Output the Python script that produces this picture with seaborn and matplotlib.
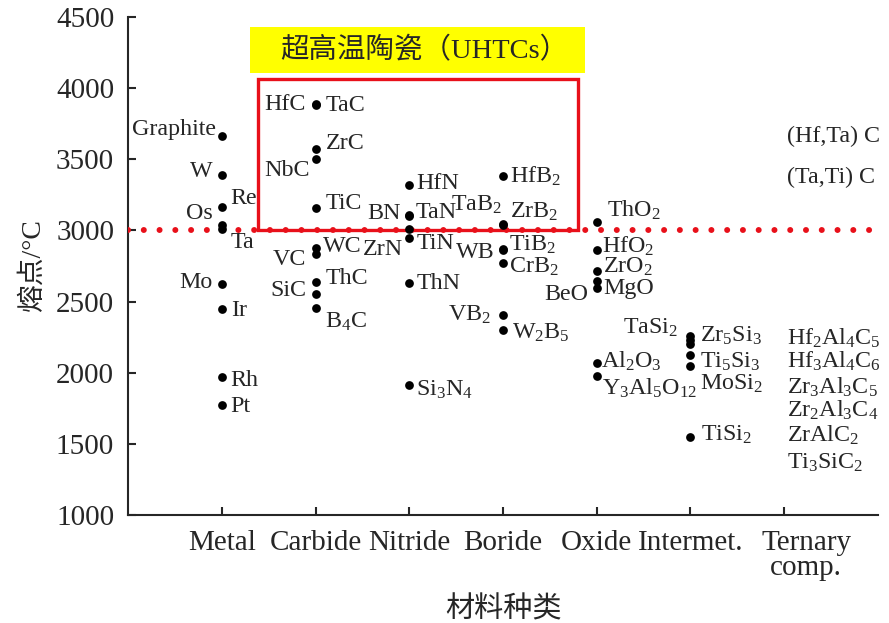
import matplotlib
matplotlib.use("Agg")
import matplotlib.pyplot as plt
import matplotlib.patches as mpatches
from matplotlib.transforms import ScaledTranslation
import pandas as pd
import seaborn as sns

# categories on the x axis
categories = ["Metal", "Carbide", "Nitride", "Boride", "Oxide", "Intermet.", "Ternary\ncomp."]

# melting points (°C), one list per material class
metal = ["Graphite", "W", "Re", "Os", "Ta", "Mo", "Ir", "Rh", "Pt"]
metal_mp = [3665, 3390, 3165, 3035, 3010, 2620, 2450, 1970, 1770]

carbide = ["HfC", "TaC", "ZrC", "NbC", "TiC", "WC", "VC", "ThC", "SiC", "B$_4$C"]
carbide_mp = [3890, 3880, 3575, 3500, 3160, 2875, 2835, 2640, 2550, 2455]

nitride = ["HfN", "TaN", "BN", "ZrN", "TiN", "ThN", "Si$_3$N$_4$"]
nitride_mp = [3320, 3110, 3100, 3010, 2950, 2630, 1910]

boride = ["HfB$_2$", "TaB$_2$", "ZrB$_2$", "TiB$_2$", "WB", "CrB$_2$", "VB$_2$", "W$_2$B$_5$"]
boride_mp = [3385, 3045, 3035, 2870, 2865, 2770, 2405, 2300]

oxide = ["ThO$_2$", "HfO$_2$", "ZrO$_2$", "MgO", "BeO", "Al$_2$O$_3$", "Y$_3$Al$_5$O$_{12}$"]
oxide_mp = [3060, 2860, 2715, 2645, 2595, 2065, 1975]

intermet = ["Zr$_5$Si$_3$", "TaSi$_2$", "", "Ti$_5$Si$_3$", "MoSi$_2$", "TiSi$_2$"]
intermet_mp = [2260, 2230, 2200, 2125, 2050, 1550]

# ternary compounds are only listed as text at the right
ternary = ["(Hf,Ta) C", "(Ta,Ti) C", "Hf$_2$Al$_4$C$_5$", "Hf$_3$Al$_4$C$_6$",
           "Zr$_3$Al$_3$C$_5$", "Zr$_2$Al$_3$C$_4$", "ZrAlC$_2$", "Ti$_3$SiC$_2$"]
ternary_y = [3659, 3370, 2244, 2077, 1900, 1738, 1562, 1367]

# label offsets from the dot, in pixels (dx < 0 -> text to the left)
label_offset = {
    "Graphite": (-6, 6), "W": (-9, 3), "Re": (9, 8), "Os": (-9, 12), "Ta": (9, -14),
    "Mo": (-9, 2), "Ir": (9, -2), "Rh": (9, -4), "Pt": (9, -1),
    "HfC": (-10, -1), "TaC": (10, 0), "ZrC": (10, 5), "NbC": (-6, -11), "TiC": (10, 4),
    "WC": (7, 2), "VC": (-9, -6), "ThC": (10, 3), "SiC": (-9, 4), "B$_4$C": (9, -14),
    "HfN": (7, 1), "TaN": (6, 2), "BN": (-8, 3), "ZrN": (-6, -21), "TiN": (7, -6),
    "ThN": (7, 0), "Si$_3$N$_4$": (7, -4),
    "HfB$_2$": (7, -1), "TaB$_2$": (-1, 19), "ZrB$_2$": (7, 14), "TiB$_2$": (6, 4),
    "WB": (-8, -3), "CrB$_2$": (6, -4), "VB$_2$": (-12, 0), "W$_2$B$_5$": (9, -3),
    "ThO$_2$": (10, 11), "HfO$_2$": (5, 4), "ZrO$_2$": (6, 4), "MgO": (7, -8),
    "BeO": (-8, -6), "Al$_2$O$_3$": (4, 2), "Y$_3$Al$_5$O$_{12}$": (5, -12),
    "Zr$_5$Si$_3$": (10, 0), "TaSi$_2$": (-12, 12), "Ti$_5$Si$_3$": (10, -7),
    "MoSi$_2$": (10, -18), "TiSi$_2$": (11, 2),
}

groups = [(metal, metal_mp), (carbide, carbide_mp), (nitride, nitride_mp),
          (boride, boride_mp), (oxide, oxide_mp), (intermet, intermet_mp)]
rows = []
for cat, (names, mps) in zip(categories, groups):
    for n, m in zip(names, mps):
        rows.append({"Material": n, "Class": cat, "MP": m})
df = pd.DataFrame(rows)

sns.set_style("ticks")
plt.rcParams["font.family"] = ["Liberation Serif", "Noto Sans CJK SC"]
plt.rcParams["mathtext.fontset"] = "custom"
plt.rcParams["mathtext.rm"] = "Liberation Serif"
plt.rcParams["mathtext.it"] = "Liberation Serif:italic"

fig = plt.figure(figsize=(8.89, 6.23), dpi=100)
ax = fig.add_axes([0.144, 0.1734, 0.8436, 0.7994])

red = "#e8101a"
ax.axhline(3000, color=red, lw=4.3, ls=(0, (0.01, 2.63)),
           dash_capstyle="round", zorder=3)
ax.add_patch(mpatches.Rectangle((0.384, 3000), 3.416, 1064, fill=False,
                                ec=red, lw=2.4, zorder=2))
ax.add_patch(mpatches.Rectangle((0.302, 4106), 3.575, 324, fc="#ffff00",
                                ec="none", zorder=2))
ax.text(2.16, 4262, "超高温陶瓷（UHTCs）", ha="center", va="center",
        fontsize=20.5, zorder=4)

sns.stripplot(data=df, x="Class", y="MP", order=categories, jitter=False,
              color="black", size=6.3, linewidth=0, zorder=5, ax=ax)

for _, r in df.iterrows():
    if not r["Material"]:
        continue
    dx, dy = label_offset[r["Material"]]
    ax.annotate(r["Material"], (categories.index(r["Class"]), r["MP"]),
                xytext=(dx, dy), textcoords="offset pixels",
                ha="left" if dx > 0 else "right", va="center", fontsize=17.3,
                zorder=6)

for n, yv in zip(ternary, ternary_y):
    ax.text(6.03, yv, n, ha="left", va="center", fontsize=17.3)

ax.set_xlim(-1, 7)
ax.set_ylim(1000, 4500)
ax.set_yticks(range(1000, 4501, 500))
ax.set_xlabel("材料种类", fontsize=21, labelpad=11)
ax.set_ylabel("熔点/°C", fontsize=20, labelpad=7)
ax.tick_params(direction="in", length=6, width=1.5, labelsize=21)
ax.tick_params(axis="x", pad=11)
ax.tick_params(axis="y", pad=10)
for s in ["left", "bottom"]:
    ax.spines[s].set_linewidth(1.5)
sns.despine(ax=ax)

lab = ax.get_xticklabels()[-1]
lab.set_linespacing(0.95)
lab.set_transform(lab.get_transform() + ScaledTranslation(0.22, 0, fig.dpi_scale_trans))

fig.savefig("out.png", dpi=100)
